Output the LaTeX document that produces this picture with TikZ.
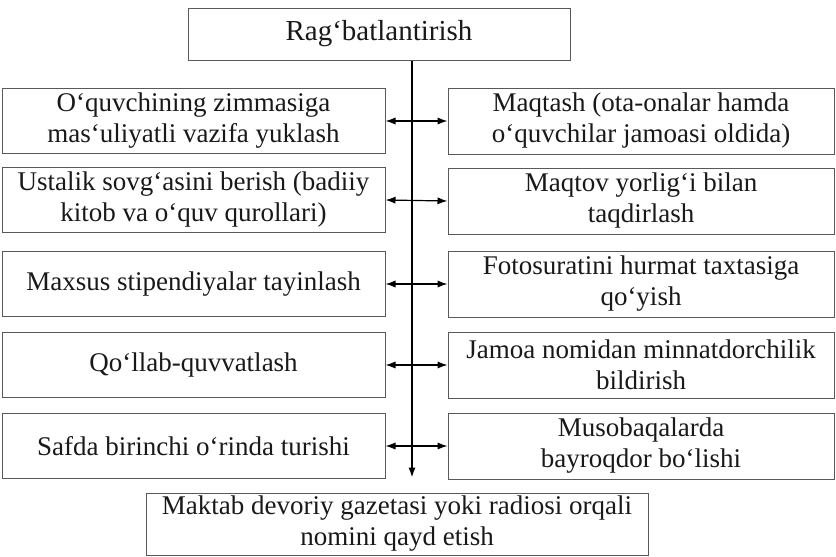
\documentclass[tikz,border=0pt]{standalone}
\usepackage{fontspec}
\setmainfont{Liberation Serif}
\usetikzlibrary{positioning, arrows.meta}

\begin{document}
\begin{tikzpicture}[
  x=0.5pt, y=-0.5pt,
  box/.style      ={rectangle, draw=black!65, line width=0.5pt, align=center,
                    inner sep=1pt, text=black!90,
                    font=\fontsize{13.5}{15.5}\selectfont},
  sidebox/.style  ={box, minimum width=191.5pt, minimum height=32.5pt},
  rightbox/.style ={box, minimum width=193pt, minimum height=33pt},
  >={Latex[length=5pt,width=3.6pt]}
]
\useasboundingbox (0,0) rectangle (836,557);

%--- Main node ------------------------------------------------------------
\node[box, minimum width=191pt, minimum height=26pt,
      font=\fontsize{14.5}{16}\selectfont] (top) at (379,34) {Rag`batlantirish};
\coordinate (trunk) at (412,0);

%--- Left column ----------------------------------------------------------
\node[sidebox] (l1) at (193.5,121) {O`quvchining zimmasiga\\mas`uliyatli vazifa yuklash};
\node[sidebox] (l2) at (193.5,200) {Ustalik sovg`asini berish (badiiy\\kitob va o`quv qurollari)};
\node[sidebox] (l3) at (193.5,284) {Maxsus stipendiyalar tayinlash};
\node[sidebox] (l4) at (193.5,365) {Qo`llab-quvvatlash};
\node[sidebox] (l5) at (193.5,446) {Safda birinchi o`rinda turishi};

%--- Right column ---------------------------------------------------------
\node[rightbox] (r1) at (641,121) {Maqtash (ota-onalar hamda\\o`quvchilar jamoasi oldida)};
\node[rightbox] (r2) at (641,201) {Maqtov yorlig`i bilan\\taqdirlash};
\node[rightbox] (r3) at (641,284) {Fotosuratini hurmat taxtasiga\\qo`yish};
\node[rightbox] (r4) at (641,365) {Jamoa nomidan minnatdorchilik\\bildirish};
\node[rightbox] (r5) at (641,446) {Musobaqalarda\\bayroqdor bo`lishi};

%--- Bottom node ----------------------------------------------------------
\node[box, minimum width=251pt, minimum height=31pt] (bottom) at (397,524)
  {Maktab devoriy gazetasi yoki radiosi orqali\\nomini qayd etish};

%--- connection -----------------------------------------------------------
\draw[->, line width=0.8pt, shorten >=7.5pt] (top.south -| trunk) -- (bottom.north -| trunk);

\draw[<->, line width=0.6pt] (l1.east) -- (r1.west);
\draw[<->, line width=0.6pt] (l2.east) -- (r2.west);
\draw[<->, line width=0.6pt] (l3.east) -- (r3.west);
\draw[<->, line width=0.6pt] (l4.east) -- (r4.west);
\draw[<->, line width=0.6pt] (l5.east) -- (r5.west);
\end{tikzpicture}
\end{document}
